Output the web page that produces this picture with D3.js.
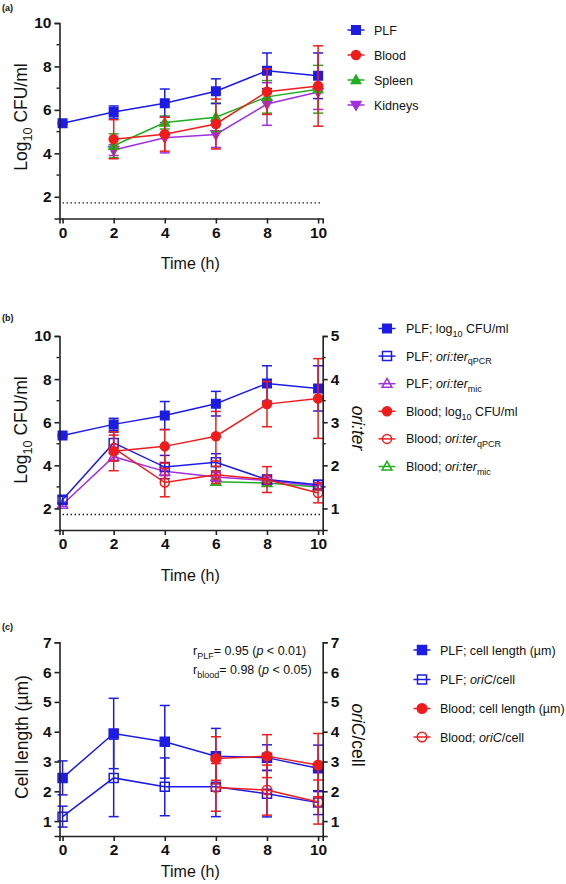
<!DOCTYPE html>
<html><head><meta charset="utf-8">
<script src="https://cdn.jsdelivr.net/npm/d3@7"></script>
<style>body{margin:0;background:#fff} text{font-family:"Liberation Sans",Arial,sans-serif;fill:#111}</style>
</head><body><svg id="c" width="566" height="884"></svg>
<script>
// ---------- data ----------
const times = [0,2,4,6,8,10];
const tLate = [2,4,6,8,10];
const tEnd = [6,8,10];
const xTicks = [0,2,4,6,8,10];

// panel (a) log10 CFU/ml
const aPLF = [5.38,5.9,6.31,6.86,7.8,7.57];
const aPLFErr = [0.04,0.28,0.65,0.57,0.82,1.05];
const aBlood = [4.65,4.88,5.35,6.84,7.1];
const aBloodErr = [0.9,0.78,1.15,1.05,1.85];
const aSpleen = [4.35,5.42,5.66,6.6,6.95];
const aSpleenErr = [0.55,0.3,0.65,0.75,1.1];
const aKidneys = [4.15,4.72,4.87,6.27,6.82];
const aKidneysErr = [0.25,0.7,0.6,0.98,0.8];
const detectionLimit = 1.72;

// panel (b)
const bPLF = [5.38,5.9,6.31,6.86,7.8,7.57];
const bPLFErr = [0.04,0.28,0.65,0.57,0.82,1.05];
const bBlood = [4.65,4.88,5.35,6.84,7.1];
const bBloodErr = [0.9,0.78,1.15,1.05,1.85];
const bPLFqPCR = [1.2,2.52,1.96,2.07,1.67,1.55];
const bPLFqPCRErr = [0.08,0.25,0.27,0.2,0.1,0.1];
const bPLFmic = [1.09,2.2,1.86,1.73,1.65,1.52];
const bPLFmicErr = [0.04,0.1,0.1,0.1,0.08,0.08];
const bBloodqPCR = [2.4,1.6,1.78,1.67,1.36];
const bBloodqPCRErr = [0.3,0.33,0.2,0.3,0.23];
const bBloodmic = [1.62,1.59,1.5];
const bBloodmicErr = [0.05,0.05,0.05];

// panel (c)
const cPLFlen = [2.45,3.94,3.66,3.18,3.13,2.77];
const cPLFlenErr = [0.57,1.18,1.22,0.93,0.43,0.78];
const cPLForiC = [1.15,2.45,2.15,2.15,1.92,1.62];
const cPLForiCErr = [0.35,1.3,0.97,1.0,0.78,0.4];
const cBloodlen = [3.1,3.18,2.88];
const cBloodlenErr = [0.73,0.72,1.06];
const cBloodoriC = [2.13,2.04,1.64];
const cBloodoriCErr = [0.8,0.84,0.74];

// ---------- drawing ----------
const BLUE="#1c1ce6", RED="#f01c1c", GREEN="#1fae1f", PURPLE="#a12fe0";
const svg = d3.select("#c");
const XL=59.5, XR=322.7;
const x = d3.scaleLinear().domain([-0.12,10.18]).range([XL,XR]);
const fmt = d3.format("d");

function markerPath(shape, s){
  if(shape==="square") return `M${-s/2},${-s/2}h${s}v${s}h${-s}Z`;
  if(shape==="circle"){const r=s/2;return `M${r},0A${r},${r} 0 1 1 ${-r},0A${r},${r} 0 1 1 ${r},0Z`;}
  if(shape==="tri") return `M0,${-s*0.58}L${s*0.55},${s*0.4}L${-s*0.55},${s*0.4}Z`;
  if(shape==="tridown") return `M0,${s*0.58}L${s*0.55},${-s*0.4}L${-s*0.55},${-s*0.4}Z`;
}

function series(g, y, xs, vals, errs, color, shape, filled, size){
  const d = xs.map((t,i)=>({t, v:vals[i], e:errs[i]}));
  const eb = g.append("g").attr("stroke",color).attr("stroke-width",1.5).attr("fill","none");
  d.forEach(p=>{
    const cx=x(p.t), y1=y(p.v+p.e), y2=y(p.v-p.e);
    eb.append("line").attr("x1",cx).attr("x2",cx).attr("y1",y1).attr("y2",y2);
    eb.append("line").attr("x1",cx-5).attr("x2",cx+5).attr("y1",y1).attr("y2",y1);
    eb.append("line").attr("x1",cx-5).attr("x2",cx+5).attr("y1",y2).attr("y2",y2);
  });
  g.append("path").datum(d).attr("fill","none").attr("stroke",color).attr("stroke-width",1.5)
    .attr("d", d3.line().x(p=>x(p.t)).y(p=>y(p.v)));
  g.selectAll(null).data(d).enter().append("path")
    .attr("transform",p=>`translate(${x(p.t)},${y(p.v)})`)
    .attr("d",markerPath(shape,size))
    .attr("fill",filled?color:"none").attr("stroke",color).attr("stroke-width",1.5);
}

function rich(textSel, parts, fs){
  let shift=0;
  parts.forEach(p=>{
    const ts=textSel.append("tspan").text(p.t);
    const want = p.sub? fs*0.3 : 0;
    if(want!==shift){ts.attr("dy",want-shift); shift=want;}
    if(p.sub) ts.attr("font-size",fs*0.72);
    if(p.it) ts.attr("font-style","italic");
  });
}

function legend(items, mx, tx, ys){
  items.forEach((it,i)=>{
    const yy=ys[i];
    const g=svg.append("g");
    g.append("line").attr("x1",mx-8.5).attr("x2",mx+8.5).attr("y1",yy).attr("y2",yy)
      .attr("stroke",it.color).attr("stroke-width",1.5);
    g.append("path").attr("transform",`translate(${mx},${yy})`).attr("d",markerPath(it.shape,it.size||8.5))
      .attr("fill",it.filled?it.color:"none").attr("stroke",it.color).attr("stroke-width",1.5);
    const t=g.append("text").attr("x",tx).attr("y",yy+4.5).attr("font-size",12.5);
    rich(t,it.label,12.5);
  });
}

function styleAxis(g){
  g.select(".domain").attr("stroke","#222").attr("stroke-width",1.6);
  g.selectAll(".tick line").attr("stroke","#222").attr("stroke-width",1.6);
  g.selectAll(".tick text").attr("font-size",15.5).attr("font-weight","bold")
    .attr("font-family","Liberation Sans, Arial, sans-serif").attr("fill","#111");
}

function xAxis(yBot, titleY){
  const g=svg.append("g").attr("transform",`translate(0,${yBot})`)
    .call(d3.axisBottom(x).tickValues(xTicks).tickFormat(fmt).tickSizeOuter(0).tickSize(5).tickPadding(3));
  styleAxis(g);
  svg.append("text").attr("x",(x(0)+x(10))/2).attr("y",titleY).attr("text-anchor","middle")
    .attr("font-size",16).text("Time (h)");
}

function yAxis(y, ticks, minor, side){
  const ax = side==="left"? d3.axisLeft(y) : d3.axisRight(y);
  const pos = side==="left"? XL : XR;
  const g=svg.append("g").attr("transform",`translate(${pos},0)`)
    .call(ax.tickValues(ticks).tickFormat(fmt).tickSizeOuter(0).tickSize(5).tickPadding(3));
  styleAxis(g);
  const dir = side==="left"? -1 : 1;
  minor.forEach(v=>{
    svg.append("line").attr("x1",pos).attr("x2",pos+dir*3).attr("y1",y(v)).attr("y2",y(v))
      .attr("stroke","#222").attr("stroke-width",1.4);
  });
}

function yTitle(parts, cx, cy, rot){
  const t=svg.append("text").attr("transform",`translate(${cx},${cy}) rotate(${rot})`)
    .attr("text-anchor","middle").attr("font-size",17.5);
  rich(t,parts,17.5);
}

function panelLabel(txt, yy){
  svg.append("text").attr("x",2).attr("y",yy).attr("font-size",9).attr("font-weight","bold").text(txt);
}

function dotted(y, v){
  svg.append("line").attr("x1",x(0)).attr("x2",x(10.15)).attr("y1",y(v)).attr("y2",y(v))
    .attr("stroke","#111").attr("stroke-width",1.3).attr("stroke-dasharray","1.4,2.6");
}

// ===== Panel (a) =====
{
  const y = d3.scaleLinear().domain([1,10]).range([218.5,23]);
  panelLabel("(a)",11);
  dotted(y, detectionLimit);
  const g=svg.append("g");
  series(g,y,tLate,aKidneys,aKidneysErr,PURPLE,"tridown",true,9);
  series(g,y,tLate,aSpleen,aSpleenErr,GREEN,"tri",true,8.5);
  series(g,y,times,aPLF,aPLFErr,BLUE,"square",true,8.5);
  series(g,y,tLate,aBlood,aBloodErr,RED,"circle",true,9);
  xAxis(218.5, 269);
  yAxis(y,[2,4,6,8,10],[3,5,7,9],"left");
  yTitle([{t:"Log"},{t:"10",sub:true},{t:" CFU/ml"}], 27, 117, -90);
  legend([
    {label:[{t:"PLF"}],color:BLUE,shape:"square",filled:true},
    {label:[{t:"Blood"}],color:RED,shape:"circle",filled:true,size:9},
    {label:[{t:"Spleen"}],color:GREEN,shape:"tri",filled:true},
    {label:[{t:"Kidneys"}],color:PURPLE,shape:"tridown",filled:true,size:9}
  ], 356, 374, [30,55,80,105]);
}

// ===== Panel (b) =====
{
  const y = d3.scaleLinear().domain([1,10]).range([530,336]);
  const yr = d3.scaleLinear().domain([0.5,5]).range([530,336]);
  panelLabel("(b)",321);
  dotted(y, detectionLimit);
  const g=svg.append("g");
  series(g,yr,tEnd,bBloodmic,bBloodmicErr,GREEN,"tri",false,9);
  series(g,yr,times,bPLFmic,bPLFmicErr,PURPLE,"tri",false,9);
  series(g,yr,times,bPLFqPCR,bPLFqPCRErr,BLUE,"square",false,9);
  series(g,yr,tLate,bBloodqPCR,bBloodqPCRErr,RED,"circle",false,9);
  series(g,y,times,bPLF,bPLFErr,BLUE,"square",true,8.5);
  series(g,y,tLate,bBlood,bBloodErr,RED,"circle",true,9);
  xAxis(530, 581);
  yAxis(y,[2,4,6,8,10],[3,5,7,9],"left");
  yAxis(yr,[1,2,3,4,5],[1.5,2.5,3.5,4.5],"right");
  yTitle([{t:"Log"},{t:"10",sub:true},{t:" CFU/ml"}], 27, 430, -90);
  yTitle([{t:"ori:ter",it:true}], 352, 428, 90);
  legend([
    {label:[{t:"PLF; log"},{t:"10",sub:true},{t:" CFU/ml"}],color:BLUE,shape:"square",filled:true},
    {label:[{t:"PLF; "},{t:"ori:ter",it:true},{t:"qPCR",sub:true}],color:BLUE,shape:"square",filled:false,size:9},
    {label:[{t:"PLF; "},{t:"ori:ter",it:true},{t:"mic",sub:true}],color:PURPLE,shape:"tri",filled:false,size:9},
    {label:[{t:"Blood; log"},{t:"10",sub:true},{t:" CFU/ml"}],color:RED,shape:"circle",filled:true,size:9},
    {label:[{t:"Blood; "},{t:"ori:ter",it:true},{t:"qPCR",sub:true}],color:RED,shape:"circle",filled:false,size:9},
    {label:[{t:"Blood; "},{t:"ori:ter",it:true},{t:"mic",sub:true}],color:GREEN,shape:"tri",filled:false,size:9}
  ], 387, 406, [328.5,356.1,383.7,411.3,438.9,466.5]);
}

// ===== Panel (c) =====
{
  const y = d3.scaleLinear().domain([0.5,7]).range([836,642.3]);
  panelLabel("(c)",630);
  const g=svg.append("g");
  series(g,y,times,cPLForiC,cPLForiCErr,BLUE,"square",false,9);
  series(g,y,times,cPLFlen,cPLFlenErr,BLUE,"square",true,9);
  series(g,y,tEnd,cBloodoriC,cBloodoriCErr,RED,"circle",false,9.5);
  series(g,y,tEnd,cBloodlen,cBloodlenErr,RED,"circle",true,9.5);
  xAxis(836, 877);
  yAxis(y,[1,2,3,4,5,6,7],[],"left");
  yAxis(y,[1,2,3,4,5,6,7],[],"right");
  yTitle([{t:"Cell length (µm)"}], 28, 737, -90);
  yTitle([{t:"oriC",it:true},{t:"/cell"}], 352, 735, 90);
  const a1=svg.append("text").attr("x",193).attr("y",655).attr("font-size",12.5);
  rich(a1,[{t:"r"},{t:"PLF",sub:true},{t:"= 0.95 ("},{t:"p",it:true},{t:" < 0.01)"}],12.5);
  const a2=svg.append("text").attr("x",193).attr("y",674).attr("font-size",12.5);
  rich(a2,[{t:"r"},{t:"blood",sub:true},{t:"= 0.98 ("},{t:"p",it:true},{t:" < 0.05)"}],12.5);
  legend([
    {label:[{t:"PLF; cell length (µm)"}],color:BLUE,shape:"square",filled:true,size:9},
    {label:[{t:"PLF; "},{t:"oriC",it:true},{t:"/cell"}],color:BLUE,shape:"square",filled:false,size:9},
    {label:[{t:"Blood; cell length (µm)"}],color:RED,shape:"circle",filled:true,size:9.5},
    {label:[{t:"Blood; "},{t:"oriC",it:true},{t:"/cell"}],color:RED,shape:"circle",filled:false,size:9.5}
  ], 422, 440, [650,679.5,708.5,737]);
}
</script></body></html>
